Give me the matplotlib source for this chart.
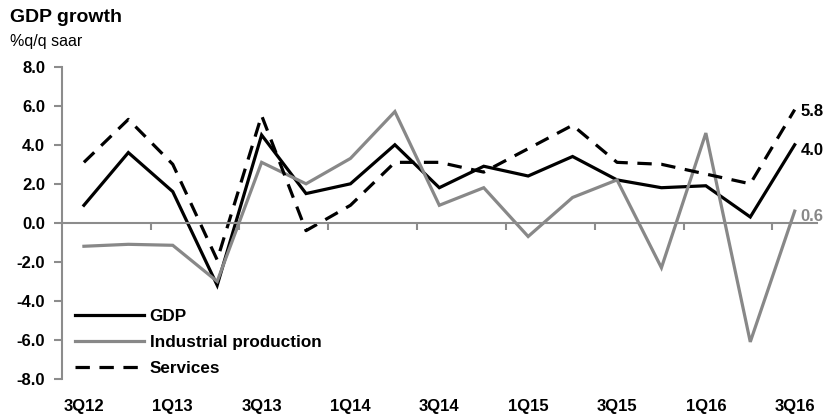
import numpy as np
import matplotlib
matplotlib.use("Agg")
import matplotlib.pyplot as plt
from matplotlib.transforms import blended_transform_factory

plt.rcParams['font.family'] = ['Liberation Sans', 'DejaVu Sans']

quarters = ['3Q12', '4Q12', '1Q13', '2Q13', '3Q13', '4Q13', '1Q14', '2Q14', '3Q14',
            '4Q14', '1Q15', '2Q15', '3Q15', '4Q15', '1Q16', '2Q16', '3Q16']
gdp = [0.9, 3.6, 1.6, -3.2, 4.5, 1.5, 2.0, 4.0, 1.8, 2.9, 2.4, 3.4, 2.2, 1.8, 1.9, 0.3, 4.0]
ind_prod = [-1.2, -1.1, -1.15, -3.0, 3.1, 2.0, 3.3, 5.7, 0.9, 1.8, -0.7, 1.3, 2.2, -2.3, 4.6, -6.1, 0.6]
services = [3.1, 5.3, 3.0, -1.9, 5.5, -0.4, 0.9, 3.1, 3.1, 2.6, 3.8, 5.0, 3.1, 3.0, 2.5, 2.0, 5.8]
y_ticks = [-8, -6, -4, -2, 0, 2, 4, 6, 8]

GRAY = '#888888'
AXIS = '#8c8c8c'

fig = plt.figure(figsize=(8.26, 4.19), dpi=100)
ax = fig.add_axes([0.0747, 0.0955, 0.9143, 0.7453])

x = np.arange(len(quarters))
ax.plot(x, gdp, color='black', lw=2.3, label='GDP', solid_joinstyle='miter')
ax.plot(x, ind_prod, color=GRAY, lw=2.3, label='Industrial production', solid_joinstyle='miter')
ax.plot(x, services, color='black', lw=2.3, ls=(0, (4.5, 3)), label='Services')

ax.set_xlim(-0.5, len(quarters) - 0.5)
ax.set_ylim(-8, 8)
ax.set_yticks(y_ticks)
ax.set_yticklabels(['%.1f' % v for v in y_ticks], fontsize=12, fontweight='bold')
ax.tick_params(axis='y', direction='out', length=6, color=AXIS, width=1.5, pad=6)

for s in ['top', 'right']:
    ax.spines[s].set_visible(False)
ax.spines['left'].set_color(AXIS)
ax.spines['left'].set_linewidth(1.5)
ax.spines['bottom'].set_position(('data', 0))
ax.spines['bottom'].set_color(AXIS)
ax.spines['bottom'].set_linewidth(1.5)
ax.set_xticks(np.arange(1.5, len(quarters) - 1, 2))
ax.set_xticklabels([])
ax.tick_params(axis='x', direction='out', length=5, color=AXIS, width=1.5)

trans = blended_transform_factory(ax.transData, ax.transAxes)
for i in range(0, len(quarters), 2):
    ax.text(x[i], -0.087, quarters[i], transform=trans, ha='center', va='center',
            fontsize=12, fontweight='bold')

# end labels
ax.annotate('%.1f' % services[-1], (x[-1], services[-1]), xytext=(4, -1),
            textcoords='offset points', va='center', fontsize=12, fontweight='bold')
ax.annotate('%.1f' % gdp[-1], (x[-1], gdp[-1]), xytext=(4, -4),
            textcoords='offset points', va='center', fontsize=12, fontweight='bold')
ax.annotate('%.1f' % ind_prod[-1], (x[-1], ind_prod[-1]), xytext=(4, -4),
            textcoords='offset points', va='center', fontsize=12, fontweight='bold', color=GRAY)

leg = ax.legend(loc='lower left', bbox_to_anchor=(0.0, -0.035), frameon=False,
                handlelength=4.0, handletextpad=0.35, labelspacing=0.65, borderpad=0.3,
                prop={'size': 12.3, 'weight': 'bold'})

fig.text(0.012, 0.958, 'GDP growth', fontsize=14, fontweight='bold', va='center', ha='left')
fig.text(0.012, 0.902, '%q/q saar', fontsize=11.5, va='center', ha='left')

fig.savefig('out.png', dpi=100)
